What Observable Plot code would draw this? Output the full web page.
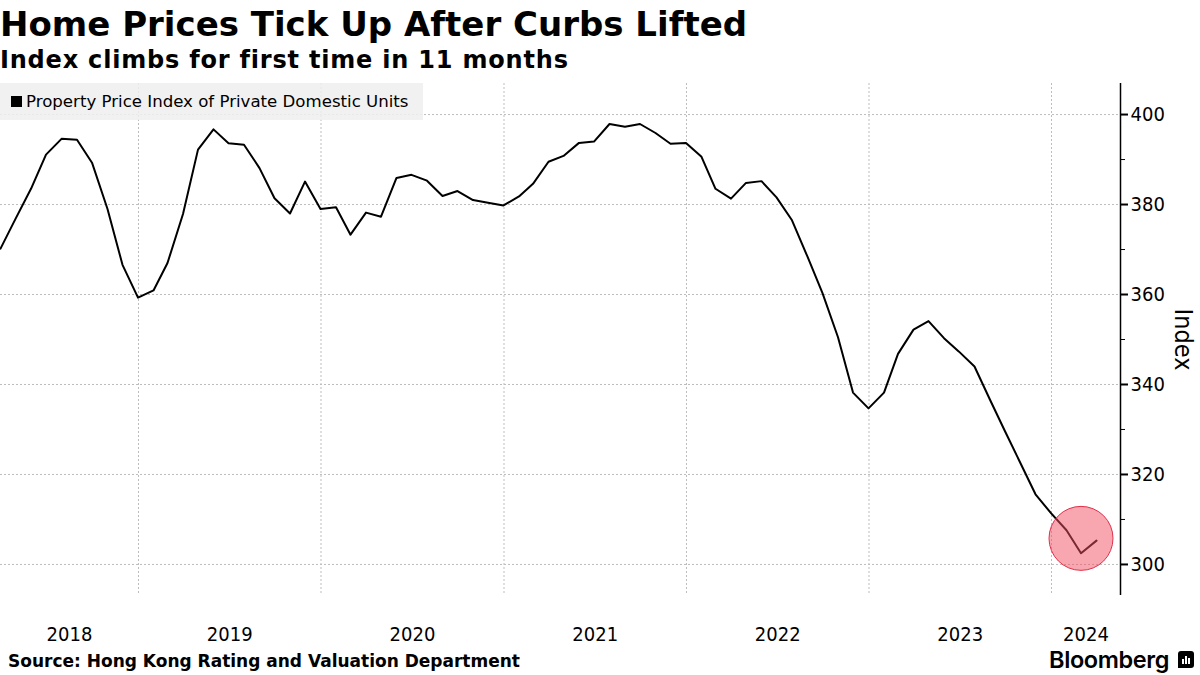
<!DOCTYPE html>
<html>
<head>
<meta charset="utf-8">
<script src="https://cdn.jsdelivr.net/npm/d3@7"></script>
<script src="https://cdn.jsdelivr.net/npm/@observablehq/plot@0.6"></script>
<style>
  html, body { margin: 0; padding: 0; background: #fff; }
  body { width: 1200px; height: 675px; position: relative; overflow: hidden; font-family: "DejaVu Sans", sans-serif; color: #000; }
  #title { position: absolute; left: 0; top: 7px; font-size: 34px; font-weight: bold; line-height: 1; white-space: nowrap; }
  #subtitle { position: absolute; left: 0; top: 48px; font-size: 24px; font-weight: bold; letter-spacing: 0.8px; line-height: 1; white-space: nowrap; }
  #chart { position: absolute; left: 0; top: 75px; }
  #legend { position: absolute; left: 0; top: 83px; width: 423px; height: 37px; background: rgba(238,238,238,0.85); font-size: 16.6px; line-height: 37px; white-space: nowrap; }
  #legend .sw { display: inline-block; width: 11px; height: 11px; background: #000; margin: 0 4px 0 11px; vertical-align: -0px; }
  #source { position: absolute; left: 8px; top: 653px; font-size: 17px; font-weight: bold; line-height: 1; white-space: nowrap; }
  #logo { position: absolute; right: 31px; top: 648px; font-family: Inter, "DejaVu Sans", sans-serif; font-size: 23.5px; font-weight: 600; letter-spacing: -0.4px; line-height: 1; }
  #icon { position: absolute; left: 1178px; top: 651px; width: 16px; height: 17px; background: #000; border-radius: 3px 3px 3px 0; }
  #icon i { position: absolute; bottom: 4px; width: 2px; background: #fff; }
</style>
</head>
<body>
<div id="title">Home Prices Tick Up After Curbs Lifted</div>
<div id="subtitle">Index climbs for first time in 11 months</div>
<div id="chart"></div>
<div id="legend"><span class="sw"></span>Property Price Index of Private Domestic Units</div>
<div id="source">Source: Hong Kong Rating and Valuation Department</div>
<div id="logo">Bloomberg</div>
<div id="icon"><i style="left:4px;height:5px"></i><i style="left:7px;height:8px"></i><i style="left:10px;height:6px"></i></div>
<script>
// ---- data ----
const seriesName = "Property Price Index of Private Domestic Units";
const firstMonth = "2018-03"; // monthly observations, plotted at month end
const indexValues = [
  370.2, 376.8, 383.5, 391.1, 394.6, 394.4, 389.3, 379.0, 366.6, 359.3,
  360.9, 367.0, 377.9, 392.2, 396.7, 393.6, 393.3, 388.1, 381.4, 378.0,
  385.1, 379.0, 379.4, 373.3, 378.2, 377.3, 385.9, 386.6, 385.3, 381.9,
  383.0, 381.0, 380.4, 379.8, 381.8, 384.6, 389.5, 390.8, 393.7, 394.0,
  397.9, 397.3, 397.9, 395.9, 393.5, 393.7, 390.6, 383.5, 381.3, 384.8,
  385.2, 381.6, 376.5, 368.4, 360.3, 350.5, 338.2, 334.7, 338.2, 346.8,
  352.2, 354.1, 350.3, 347.3, 344.0, 336.6, 329.6, 322.5, 315.6, 311.4,
  307.6, 302.5, 305.3
];
const yearLabels = ["2018", "2019", "2020", "2021", "2022", "2023", "2024"];
const yMajorTicks = [300, 320, 340, 360, 380, 400];
const yMinorTicks = [310, 330, 350, 370, 390];
const highlight = [{date: "2024-02-29", value: 305.8}];
const xDomain = ["2018-03-31", "2024-05-18"];
const yDomain = [293.1, 406.9];

// ---- build ----
const parse = d3.utcParse("%Y-%m-%d");
const start = d3.utcParse("%Y-%m")(firstMonth);
const data = indexValues.map((v, i) => ({
  date: d3.utcDay.offset(d3.utcMonth.offset(start, i + 1), -1),
  value: v
}));
const xd = xDomain.map(parse);
const yearStarts = yearLabels.slice(1).map(y => parse(y + "-01-01"));
const labelData = yearLabels.map(y => {
  const a = Math.max(+parse(y + "-01-01"), +xd[0]);
  const b = Math.min(+parse((+y + 1) + "-01-01"), +xd[1]);
  return {label: y, date: new Date((a + b) / 2)};
});
const hl = highlight.map(d => ({date: parse(d.date), value: d.value}));

const plot = Plot.plot({
  width: 1200,
  height: 580,
  marginTop: 8,
  marginBottom: 60,
  marginLeft: 0,
  marginRight: 80,
  style: {fontFamily: "'DejaVu Sans Condensed', 'DejaVu Sans', sans-serif", fontSize: "20px", background: "transparent", overflow: "visible"},
  x: {type: "utc", domain: xd, axis: null},
  y: {domain: yDomain, axis: null},
  marks: [
    Plot.gridY(yMajorTicks, {stroke: "#bdbdbd", strokeOpacity: 1, strokeDasharray: "2,2"}),
    Plot.ruleX(yearStarts, {stroke: "#bdbdbd", strokeOpacity: 1, strokeDasharray: "2,2"}),
    Plot.ruleX([xd[1]], {stroke: "#000", strokeWidth: 1.5}),
    Plot.axisY({anchor: "right", ticks: yMajorTicks, tickSize: 7, tickPadding: 3, tickFormat: d => String(d), label: null, strokeWidth: 2, fontSize: 20}),
    Plot.axisY({anchor: "right", ticks: yMinorTicks, tickSize: 4, tickFormat: () => "", label: null}),
    Plot.text(["Index"], {frameAnchor: "right", dx: 62, rotate: 90, textAnchor: "middle", lineAnchor: "middle", fontSize: 25}),
    Plot.text(labelData, {x: "date", text: "label", frameAnchor: "bottom", dy: 39, lineAnchor: "middle", textAnchor: "middle", fontSize: 20}),
    Plot.line(data, {x: "date", y: "value", stroke: "#000", strokeWidth: 2}),
    Plot.dot(hl, {x: "date", y: "value", r: 32, fill: "#f24d62", fillOpacity: 0.5, stroke: "#e0304a", strokeWidth: 1})
  ]
});
document.getElementById("chart").appendChild(plot);
</script>
</body>
</html>
